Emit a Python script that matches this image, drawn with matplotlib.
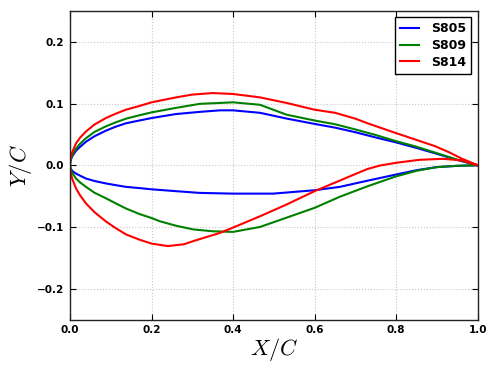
import matplotlib
matplotlib.use("Agg")
import matplotlib.pyplot as plt

plt.rcParams['mathtext.fontset'] = 'cm'

# ---- data ----
s805_upper_x = [0, 0.0005, 0.001, 0.003, 0.006, 0.0147, 0.025, 0.039, 0.06, 0.088, 0.11, 0.137, 0.17,
                0.2, 0.26, 0.318, 0.368, 0.40, 0.466, 0.531, 0.60, 0.65, 0.70, 0.75, 0.80, 0.85,
                0.90, 0.95, 1.0]
s805_upper_y = [0, 0.004, 0.006, 0.0105, 0.015, 0.0235, 0.030, 0.038, 0.047, 0.056, 0.062, 0.068, 0.0725,
                0.0765, 0.083, 0.0865, 0.089, 0.089, 0.085, 0.0757, 0.067, 0.061, 0.0535, 0.045, 0.037,
                0.028, 0.0185, 0.0085, 0]
s805_lower_x = [0, 0.0005, 0.001, 0.003, 0.006, 0.0147, 0.025, 0.039, 0.06, 0.088, 0.11, 0.137, 0.17,
                0.2, 0.26, 0.318, 0.40, 0.498, 0.60, 0.662, 0.73, 0.80, 0.85, 0.90, 0.95, 1.0]
s805_lower_y = [0, -0.003, -0.004, -0.0068, -0.0095, -0.0135, -0.017, -0.0215, -0.0255, -0.0295, -0.032,
                -0.035, -0.037, -0.039, -0.042, -0.0448, -0.046, -0.046, -0.0405, -0.035, -0.025,
                -0.015, -0.008, -0.003, -0.001, 0]

s809_upper_x = [0, 0.0005, 0.001, 0.003, 0.006, 0.0147, 0.025, 0.039, 0.06, 0.088, 0.11, 0.137, 0.17,
                0.2, 0.26, 0.318, 0.368, 0.40, 0.466, 0.531, 0.60, 0.65, 0.70, 0.75, 0.80, 0.85,
                0.90, 0.95, 1.0]
s809_upper_y = [0, 0.0046, 0.007, 0.012, 0.017, 0.027, 0.035, 0.0437, 0.054, 0.063, 0.069, 0.0754, 0.081,
                0.0857, 0.093, 0.0995, 0.101, 0.102, 0.098, 0.082, 0.0725, 0.0665, 0.058, 0.049, 0.039,
                0.030, 0.0195, 0.009, 0]
s809_lower_x = [0, 0.0005, 0.001, 0.003, 0.006, 0.0147, 0.025, 0.039, 0.06, 0.088, 0.11, 0.137, 0.17,
                0.2, 0.22, 0.26, 0.302, 0.35, 0.40, 0.466, 0.531, 0.60, 0.662, 0.73, 0.80, 0.85,
                0.90, 0.95, 1.0]
s809_lower_y = [0, -0.0035, -0.005, -0.009, -0.013, -0.0215, -0.028, -0.035, -0.0445, -0.0535, -0.061,
                -0.07, -0.079, -0.0855, -0.0907, -0.098, -0.104, -0.107, -0.108, -0.100, -0.085,
                -0.069, -0.051, -0.034, -0.018, -0.009, -0.003, -0.0008, 0]

s814_upper_x = [0, 0.0005, 0.001, 0.003, 0.006, 0.0147, 0.025, 0.039, 0.06, 0.088, 0.11, 0.137, 0.17,
                0.2, 0.26, 0.30, 0.35, 0.40, 0.466, 0.531, 0.60, 0.65, 0.70, 0.73, 0.80, 0.85,
                0.895, 0.93, 0.96, 1.0]
s814_upper_y = [0, 0.006, 0.009, 0.0155, 0.022, 0.0355, 0.045, 0.0546, 0.066, 0.0765, 0.083, 0.090,
                0.096, 0.102, 0.110, 0.1145, 0.117, 0.1155, 0.110, 0.101, 0.090, 0.085, 0.0755, 0.068,
                0.052, 0.041, 0.031, 0.021, 0.011, 0]
s814_lower_x = [0, 0.0005, 0.001, 0.003, 0.006, 0.0147, 0.025, 0.039, 0.06, 0.088, 0.11, 0.137, 0.17,
                0.2, 0.24, 0.28, 0.302, 0.368, 0.40, 0.466, 0.531, 0.60, 0.662, 0.70, 0.73, 0.76,
                0.80, 0.857, 0.914, 0.96, 1.0]
s814_lower_y = [0, -0.006, -0.009, -0.016, -0.023, -0.0375, -0.049, -0.0617, -0.076, -0.091, -0.101,
                -0.112, -0.1205, -0.127, -0.131, -0.128, -0.123, -0.1096, -0.101, -0.0827, -0.0637,
                -0.042, -0.0248, -0.0142, -0.006, -0.0005, 0.004, 0.0088, 0.0104, 0.008, 0]

names = ['S805', 'S809', 'S814']
colors = ['#0000ff', '#008000', '#ff0000']
x_ticks = [0.0, 0.2, 0.4, 0.6, 0.8, 1.0]
y_ticks = [-0.2, -0.1, 0.0, 0.1, 0.2]

airfoils = [
    (s805_upper_x, s805_upper_y, s805_lower_x, s805_lower_y),
    (s809_upper_x, s809_upper_y, s809_lower_x, s809_lower_y),
    (s814_upper_x, s814_upper_y, s814_lower_x, s814_lower_y),
]

fig = plt.figure(figsize=(4.98, 3.74), dpi=100)
ax = fig.add_axes([70 / 498, 1 - 319.5 / 374, (477.7 - 70) / 498, (319.5 - 11) / 374])

for (ux, uy, lx, ly), name, c in zip(airfoils, names, colors):
    xs = list(ux[::-1]) + list(lx[1:])
    ys = list(uy[::-1]) + list(ly[1:])
    ax.plot(xs, ys, color=c, lw=1.5, label=name, solid_joinstyle='round')

ax.set_xlim(0, 1)
ax.set_ylim(-0.25, 0.25)
ax.set_xticks(x_ticks)
ax.set_yticks(y_ticks)
ax.set_xticklabels([f"{v:.1f}" for v in x_ticks])
ax.set_yticklabels([f"{v:.1f}".replace('-', '\u2212') for v in y_ticks])
ax.grid(True, linestyle=':', color='#c8c8c8', lw=0.8)
ax.tick_params(direction='in', top=True, right=True, length=4, width=0.8, pad=4,
               labelsize=7.5)
for lab in ax.get_xticklabels() + ax.get_yticklabels():
    lab.set_fontweight('bold')
for s in ax.spines.values():
    s.set_linewidth(1.0)
    s.set_color('#222222')

ax.set_xlabel('$X/C$', fontsize=16, labelpad=1)
ax.set_ylabel('$Y/C$', fontsize=16, labelpad=2)

leg = ax.legend(loc='upper right', fancybox=False, framealpha=1, edgecolor='black',
                prop={'weight': 'bold', 'size': 9}, handlelength=1.5, handletextpad=1.0,
                borderaxespad=0.5, labelspacing=0.3)
leg.get_frame().set_linewidth(1.0)

fig.savefig('out.png', dpi=100)
